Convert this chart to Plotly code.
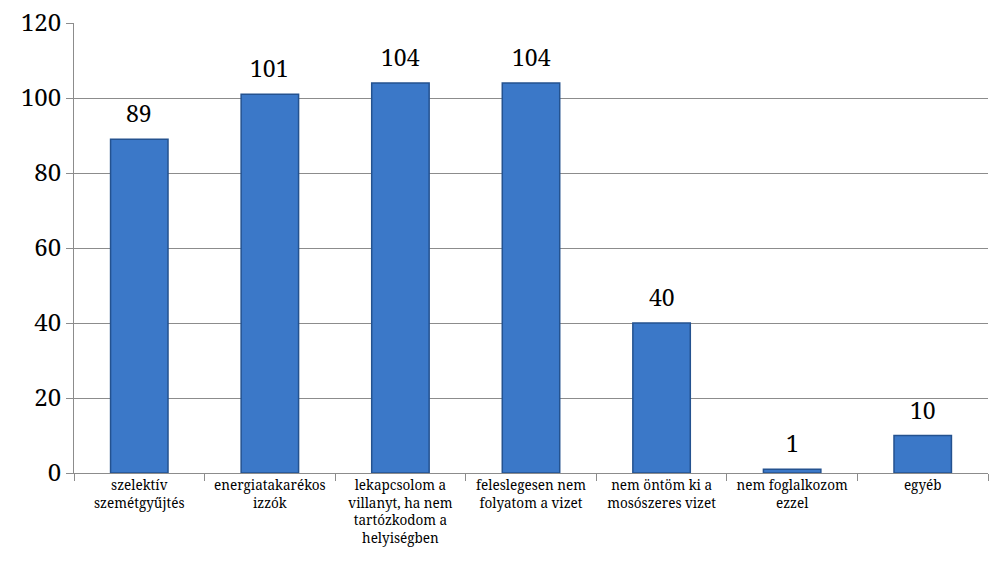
import plotly.graph_objects as go

categories = [
    "szelektív<br>szemétgyűjtés",
    "energiatakarékos<br>izzók",
    "lekapcsolom a<br>villanyt, ha nem<br>tartózkodom a<br>helyiségben",
    "feleslegesen nem<br>folyatom a vizet",
    "nem öntöm ki a<br>mosószeres vizet",
    "nem foglalkozom<br>ezzel",
    "egyéb",
]
values = [89, 101, 104, 104, 40, 1, 10]
y_ticks = [0, 20, 40, 60, 80, 100, 120]

SERIF = "Noto Serif"

fig = go.Figure(
    go.Bar(
        x=categories,
        y=values,
        marker=dict(color="#3b78c8", line=dict(color="#24528f", width=1.5)),
        width=0.44,
    )
)

for cat, val in zip(categories, values):
    fig.add_annotation(
        x=cat,
        y=val,
        text=str(val),
        showarrow=False,
        yanchor="bottom",
        yshift=8,
        font=dict(family=SERIF, size=23, color="#000000"),
    )

fig.update_layout(
    width=1005,
    height=568,
    margin=dict(l=74, r=17, t=23, b=95, autoexpand=False),
    paper_bgcolor="white",
    plot_bgcolor="white",
    showlegend=False,
    font=dict(family=SERIF, color="#000000"),
)
fig.update_xaxes(
    showline=True,
    linecolor="#8c8c8c",
    linewidth=1,
    ticks="outside",
    tickson="boundaries",
    ticklen=7,
    tickcolor="#8c8c8c",
    tickfont=dict(family=SERIF, size=13.5),
    tickangle=0,
    showgrid=False,
    automargin=False,
)
fig.update_yaxes(
    range=[0, 120],
    tickvals=y_ticks,
    showline=True,
    linecolor="#8c8c8c",
    linewidth=1,
    ticks="outside",
    ticklen=7,
    tickcolor="#8c8c8c",
    showgrid=True,
    gridcolor="#8c8c8c",
    gridwidth=1,
    zeroline=False,
    tickfont=dict(family=SERIF, size=24),
    ticklabeloverflow="allow",
    automargin=False,
)

fig.write_html(
    "out.html",
    config={"displayModeBar": False},
    post_script="document.body.style.margin='0';document.body.style.padding='0';",
)
